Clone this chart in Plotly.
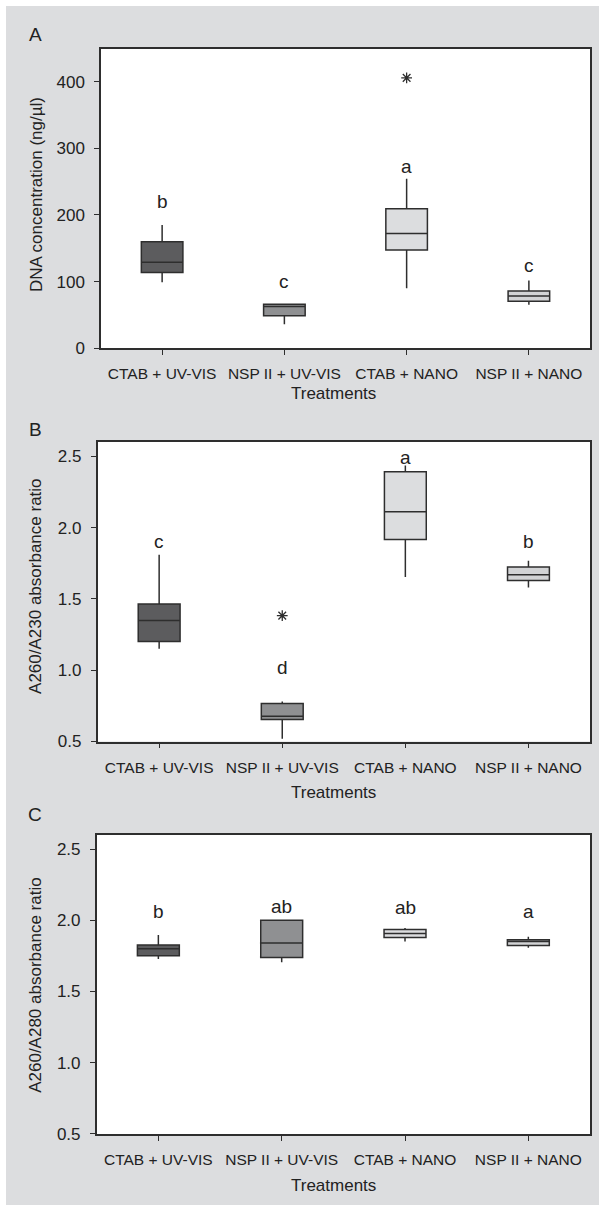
import plotly.graph_objects as go

W, H = 599, 1215

categories = ["CTAB + UV-VIS", "NSP II + UV-VIS", "CTAB + NANO", "NSP II + NANO"]
fill_colors = ["#5c5c5e", "#8f9092", "#dcdddf", "#d2d3d5"]

# Panel A: DNA concentration (ng/µl)
a_low = [99, 36, 90, 65]
a_q1 = [113.6, 48.6, 147.4, 70.4]
a_med = [129, 62.5, 172.2, 78.4]
a_q3 = [159.7, 66, 209.4, 85.9]
a_high = [185, 66, 254.5, 101.7]
a_letters = ["b", "c", "a", "c"]
a_letter_y = [221, 100, 273, 124.6]
a_out_x = ["CTAB + NANO"]
a_out_y = [406]
a_ticks = [0, 100, 200, 300, 400]

# Panel B: A260/A230 absorbance ratio
b_low = [1.151, 0.519, 1.654, 1.580]
b_q1 = [1.202, 0.655, 1.916, 1.629]
b_med = [1.348, 0.678, 2.111, 1.670]
b_q3 = [1.464, 0.767, 2.391, 1.724]
b_high = [1.809, 0.780, 2.435, 1.768]
b_letters = ["c", "d", "a", "b"]
b_letter_y = [1.904, 1.021, 2.495, 1.904]
b_out_x = ["NSP II + UV-VIS"]
b_out_y = [1.383]

# Panel C: A260/A280 absorbance ratio
c_low = [1.728, 1.705, 1.851, 1.807]
c_q1 = [1.751, 1.738, 1.879, 1.823]
c_med = [1.800, 1.840, 1.907, 1.851]
c_q3 = [1.826, 2.000, 1.935, 1.863]
c_high = [1.897, 2.000, 1.946, 1.884]
c_letters = ["b", "ab", "ab", "a"]
c_letter_y = [2.064, 2.099, 2.087, 2.064]

ratio_ticks = [0.5, 1.0, 1.5, 2.0, 2.5]

FONT = "Liberation Sans, Arial, sans-serif"
TXT = "#222222"
LINE = "#2e2e2e"
BG = "#dcdddf"


def fx(px):
    return px / W


def fy(py):
    return 1 - py / H


# panel geometry in pixels: (left, right, top, bottom)
panels = [
    (101, 590, 49, 351),
    (97.6, 590, 445.7, 747.7),
    (96.7, 590, 841.7, 1143.3),
]

fig = go.Figure()

datasets = [
    (a_low, a_q1, a_med, a_q3, a_high, a_letters, a_letter_y, a_out_x, a_out_y),
    (b_low, b_q1, b_med, b_q3, b_high, b_letters, b_letter_y, b_out_x, b_out_y),
    (c_low, c_q1, c_med, c_q3, c_high, c_letters, c_letter_y, [], []),
]

annotations = []
for p, (lo, q1, med, q3, hi, letters, ly, ox, oy) in enumerate(datasets):
    xa = "x" if p == 0 else f"x{p + 1}"
    ya = "y" if p == 0 else f"y{p + 1}"
    for i, cat in enumerate(categories):
        fig.add_trace(go.Box(
            x=[cat], q1=[q1[i]], median=[med[i]], q3=[q3[i]],
            lowerfence=[lo[i]], upperfence=[hi[i]],
            fillcolor=fill_colors[i], line=dict(color=LINE, width=1.5),
            width=0.34, whiskerwidth=0, boxpoints=False,
            xaxis=xa, yaxis=ya, showlegend=False, hoverinfo="skip",
        ))
    if ox:
        fig.add_trace(go.Scatter(
            x=ox, y=oy, mode="markers",
            marker=dict(symbol="asterisk-open", size=9, color=LINE,
                        line=dict(color=LINE, width=1.3)),
            xaxis=xa, yaxis=ya, showlegend=False, hoverinfo="skip",
        ))
    for i, cat in enumerate(categories):
        annotations.append(dict(
            x=cat, y=ly[i], xref=xa, yref=ya, text=letters[i],
            showarrow=False, xanchor="center", yanchor="middle",
            font=dict(family=FONT, size=19, color=TXT),
        ))

# axis layout
layout_axes = {}
for p, (l, r, t, b) in enumerate(panels):
    xk = "xaxis" if p == 0 else f"xaxis{p + 1}"
    yk = "yaxis" if p == 0 else f"yaxis{p + 1}"
    ya_anchor = "y" if p == 0 else f"y{p + 1}"
    xa_anchor = "x" if p == 0 else f"x{p + 1}"
    layout_axes[xk] = dict(
        domain=[fx(l), fx(r)], anchor=ya_anchor, type="category",
        categoryorder="array", categoryarray=categories,
        range=[-0.5, 3.5], showline=True, linecolor=LINE, linewidth=1.5,
        mirror=True, ticks="outside", ticklen=5, tickcolor=LINE,
        showgrid=False, zeroline=False, tickangle=0, ticklabelstandoff=6,
        tickfont=dict(family=FONT, size=15.5, color=TXT),
    )
    if p == 0:
        yr, tv, tf = [0, 450], a_ticks, None
    else:
        yr, tv, tf = [0.5, 2.6], ratio_ticks, ".1f"
    yd = dict(
        domain=[fy(b), fy(t)], anchor=xa_anchor, range=yr,
        tickvals=tv, showline=True, linecolor=LINE, linewidth=1.5,
        mirror=True, ticks="outside", ticklen=5, tickcolor=LINE,
        showgrid=False, zeroline=False, ticklabelstandoff=6,
        tickfont=dict(family=FONT, size=17, color=TXT),
    )
    if tf:
        yd["tickformat"] = tf
    layout_axes[yk] = yd

# titles and panel labels
y_titles = ["DNA concentration (ng/µl)", "A260/A230 absorbance ratio",
            "A260/A280 absorbance ratio"]
y_title_pos = [196.7, 590.8, 993]
x_title_pos = [397, 799, 1195]
panel_labels = ["A", "B", "C"]
panel_label_pos = [35, 432.7, 821.7]

for p in range(3):
    annotations.append(dict(
        x=fx(36), y=fy(y_title_pos[p]), xref="paper", yref="paper",
        text=y_titles[p], textangle=-90, showarrow=False,
        xanchor="center", yanchor="middle",
        font=dict(family=FONT, size=17, color=TXT),
    ))
    annotations.append(dict(
        x=fx(333), y=fy(x_title_pos[p]), xref="paper", yref="paper",
        text="Treatments", showarrow=False,
        xanchor="center", yanchor="middle",
        font=dict(family=FONT, size=17, color=TXT),
    ))
    annotations.append(dict(
        x=fx(35), y=fy(panel_label_pos[p]), xref="paper", yref="paper",
        text=panel_labels[p], showarrow=False,
        xanchor="center", yanchor="middle",
        font=dict(family=FONT, size=19, color=TXT),
    ))

shapes = [dict(type="rect", xref="paper", yref="paper",
               x0=fx(6), x1=1, y0=0, y1=fy(6),
               fillcolor=BG, line=dict(width=0), layer="below")]
for (l, r, t, b) in panels:
    shapes.append(dict(type="rect", xref="paper", yref="paper",
                       x0=fx(l), x1=fx(r), y0=fy(b), y1=fy(t),
                       fillcolor="white", line=dict(width=0), layer="below"))

fig.update_layout(
    width=W, height=H,
    margin=dict(l=0, r=0, t=0, b=0),
    paper_bgcolor="white", plot_bgcolor="white",
    annotations=annotations, shapes=shapes,
    showlegend=False,
    **layout_axes,
)

fig.write_html(
    "out.html",
    config={"displayModeBar": False},
    post_script="document.body.style.margin='0';document.body.style.overflow='hidden';",
)
